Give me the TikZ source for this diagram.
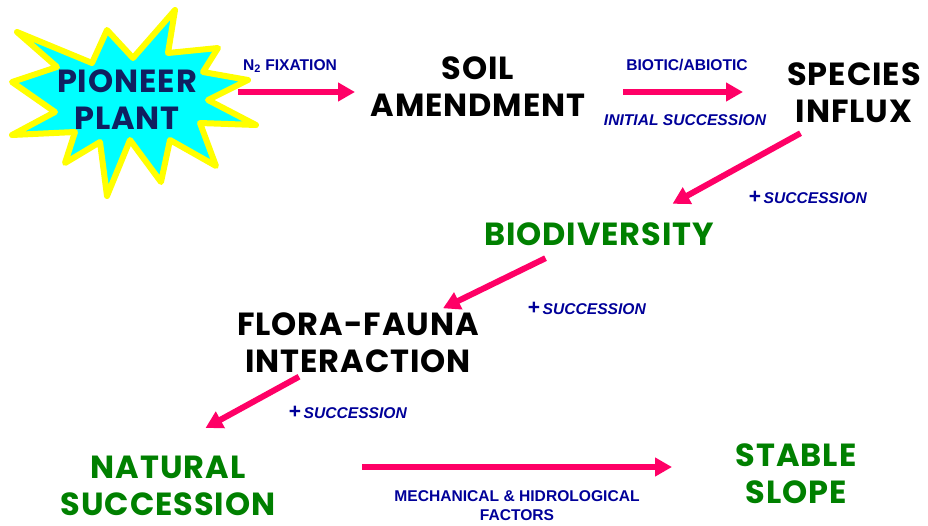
\documentclass[tikz,border=0pt]{standalone}
\usepackage{fontspec}
\setmainfont{Liberation Sans}
\newfontfamily\stagefont[LetterSpace=3]{Poppins}
\usetikzlibrary{arrows.meta}

\definecolor{flowpink}{RGB}{255,0,102}
\definecolor{notenavy}{RGB}{0,0,153}
\definecolor{stagegreen}{RGB}{0,128,0}
\definecolor{burstcyan}{RGB}{0,255,255}
\definecolor{burstyellow}{RGB}{255,255,0}
\definecolor{pioneernavy}{RGB}{16,32,96}

\begin{document}
\begin{tikzpicture}[
  x=1pt, y=-1pt,
  stage/.style={inner sep=0pt, align=center, font=\stagefont\bfseries\fontsize{32}{37}\selectfont},
  greenstage/.style={stage, text=stagegreen},
  note/.style={text=notenavy, align=center, font=\bfseries\fontsize{15.6}{19}\selectfont},
  flow/.style={-{Triangle[length=17pt,width=18pt]}, line width=6pt, flowpink}
]
\useasboundingbox (0,0) rectangle (928,525);

% starburst behind the pioneer plant
\draw[burstyellow, line width=6pt, line join=round, fill=burstcyan]
  (17,32) -- (92,63) -- (107,30) -- (133,58) -- (175,10) -- (168,53)
  -- (218,48) -- (203,72) -- (248,80) -- (208,100) -- (256,125) -- (200,123)
  -- (216,166) -- (170,140) -- (161,182) -- (130,140) -- (107,196) -- (100,142)
  -- (65,163) -- (75,132) -- (12,135) -- (55,112) -- (12,82) -- (57,67) -- cycle;

\node[stage, text=pioneernavy] (pioneer) at (127,100) {PIONEER\\PLANT};
\node[stage] (soil) at (478,86.5) {SOIL\\AMENDMENT};
\node[stage] (species) at (854,93) {SPECIES\\INFLUX};
\node[greenstage] (biodiv) at (599,234.5) {BIODIVERSITY};
\node[stage] (flora) at (358,342.5) {FLORA-FAUNA\\INTERACTION};
\node[greenstage] (natural) at (168,486) {NATURAL\\SUCCESSION};
\node[greenstage] (stable) at (796,474) {STABLE\\SLOPE};

% arrows along the sequence
\draw[flow] ([shift={(111,-8)}]pioneer.center) -- ([shift={(-123,5.5)}]soil.center);
\draw[flow] ([shift={(145,5.5)}]soil.center) -- ([shift={(-111,-1)}]species.center);
\draw[flow] ([shift={(-53.5,10)}]species.south) -- ([shift={(73.5,-19)}]biodiv.north);
\draw[flow] ([shift={(-53.5,12)}]biodiv.south) -- ([shift={(85,-4)}]flora.north);
\draw[flow] ([shift={(-59,4)}]flora.south) -- ([shift={(37.5,-28)}]natural.north);
\draw[flow] ([shift={(194,-19)}]natural.center) -- ([shift={(-124,-7)}]stable.center);

% labels on the arrows
\node[note] (fix) at (290,66) {N\textsubscript{2} FIXATION};
\node[note] (biotic) at (687,65) {BIOTIC/ABIOTIC};
\node[note, font=\bfseries\itshape\fontsize{15.6}{19}\selectfont] (initial) at (685,120) {INITIAL SUCCESSION};
\node[note] (succ1) at (808,197) {{\fontsize{21}{21}\selectfont +}\,\textit{SUCCESSION}};
\node[note] (succ2) at (587,308) {{\fontsize{21}{21}\selectfont +}\,\textit{SUCCESSION}};
\node[note] (succ3) at (348,412) {{\fontsize{21}{21}\selectfont +}\,\textit{SUCCESSION}};
\node[note] (factors) at (517,505.5) {MECHANICAL \& HIDROLOGICAL\\FACTORS};

\end{tikzpicture}
\end{document}
